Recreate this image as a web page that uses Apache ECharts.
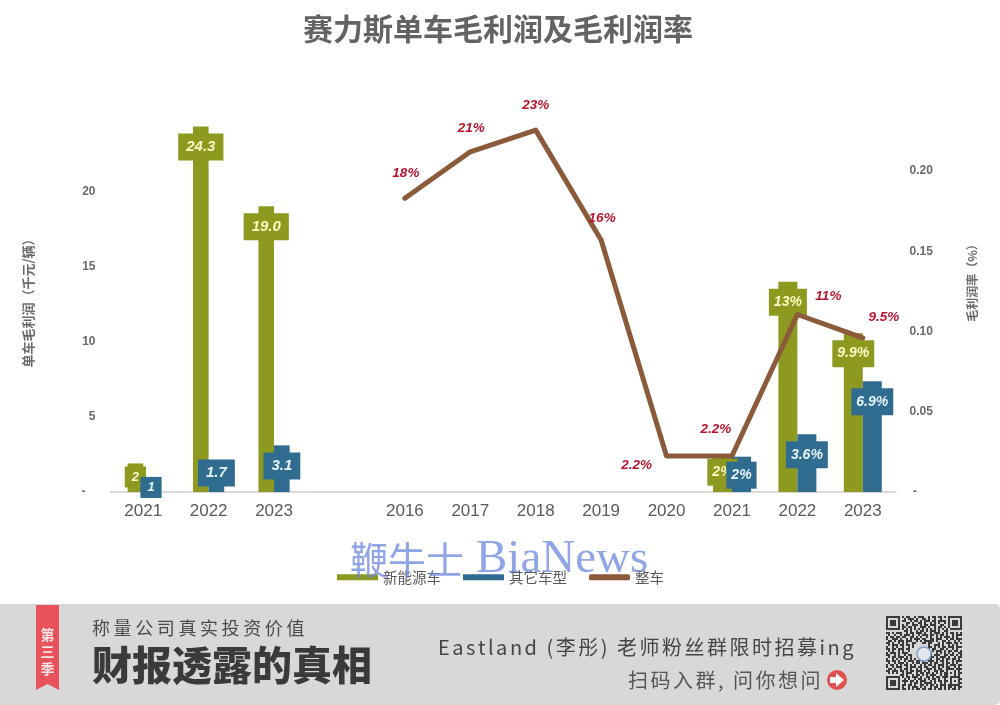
<!DOCTYPE html>
<html>
<head>
<meta charset="utf-8">
<style>html,body{margin:0;padding:0;background:#fff}#chart{width:1000px;height:705px}</style>
<script src="https://cdn.jsdelivr.net/npm/echarts@6/dist/echarts.min.js"></script>
</head>
<body>
<div id="chart"></div>
<script>
var categories = ['2021', '2022', '2023', ' ', '2016', '2017', '2018', '2019', '2020', '2021', '2022', '2023'];

// 单车毛利润（千元/辆）
var profitNev = [1.9, 24.3, 19.0, null, null, null, null, null, null, null, null, null];
var profitOther = [1.0, 1.7, 3.1, null, null, null, null, null, null, null, null, null];
var profitNevText = ['2', '24.3', '19.0'];
var profitOtherText = ['1', '1.7', '3.1'];

// 毛利润率
var rateNev = [null, null, null, null, null, null, null, null, null, 0.022, 0.131, 0.099];
var rateOther = [null, null, null, null, null, null, null, null, null, 0.022, 0.036, 0.069];
var rateTotal = [null, null, null, null, 0.183, 0.212, 0.2255, 0.157, 0.0224, 0.0224, 0.1106, 0.096];
var rateNevText = ['2%', '13%', '9.9%'];
var rateOtherText = ['2%', '3.6%', '6.9%'];
var rateTotalText = ['18%', '21%', '23%', '16%', '2.2%', '2.2%', '11%', '9.5%'];

var leftTicks = [0, 5, 10, 15, 20];
var rightTicks = [0, 0.05, 0.1, 0.15, 0.2];

var olive = '#8e9a1f';
var blue = '#2f6c8f';
var brown = '#8b5a3a';
var gray = '#6a6a6a';
var fontSans = '"Liberation Sans","Noto Sans CJK SC",sans-serif';
var fontCjk = '"Noto Sans CJK SC",sans-serif';

var qrRows = [
  '#######.#.##..#.###..#.##.##.#.#######',
  '#.....#..#.###.#..##.#..#..#...#.....#',
  '#.###.#.##..#.##.#.###.##.####.#.###.#',
  '#.###.#...##.#..##.#..#.#.#..#.#.###.#',
  '#.###.#.#.#..###.#.##.###..##..#.###.#',
  '#.....#.##.##.#..###.#..#.##.#.#.....#',
  '#######.#.#.#.#.#.#.#.#.#.#.#.#.######',
  '.........##.#..#.##.#.###.#..##.......',
  '##.#.###..#.##.###.#..#.###.#.#.##.#.#',
  '.#..#..#.###.#..#.###.##.#.##.#..#.###',
  '#.##.##.##..##.#.#..#.#..#.#.###.#.#..',
  '#..###.#..#.#.###.##..##.###..#.##.###',
  '.##.#.###.###..#.#.#####.#..##.#..#.#.',
  '##.#..#.#.#..##...##.##...#.#.###.##.#',
  '.#.###.##.##.#.......#..###.#..#.#.#..',
  '#..#.#..#..#.#.......##.#.#.##.###.###',
  '##.##.###.##.........#.##..##.#..#.#..',
  '.#.#..#.#..#.........#.#.###.#.##.##.#',
  '#.###.#.###..........##..#.#.#.#.#..##',
  '##..#.#..#.##.........#.###..##.##.#.#',
  '.#.##.###.#.#.......#.##.#.###.#..#.##',
  '#..#.#.#.##.#.#....##.#..##.#.##.##.#.',
  '##.##.#..#.###.##.#..###.#.##.#..#.###',
  '.#..#.###.#..#.##.###.#.##..#.##.#.#..',
  '#.##.#.#.##.#.#..#.#.##.#.###.#.###.##',
  '#..#.###..#.###.##.##..##.#.#.##..#.#.',
  '.##.#..#.##.#..#.#..###.#.##..####.###',
  '##.###.##.#.##.###.#.#..##.##.#...#.#.',
  '.#.#.#..#.###..#.##.##.#.#.#.##.#.#.##',
  '.......##.#..#.##.#.#.###..#.##...#.#.',
  '#######.#.##.###.#..##.#.##.###.#####.',
  '#.....#..#.#..#.##.#.#.##.#..#..#...##',
  '#.###.#.###.##.#.###..#.#.##.##.#.#.#.',
  '#.###.#..#..#.##.#.####.#..#.#..#...##',
  '#.###.#.##.##.#..##.#.##.#.###.######.',
  '#.....#.#..#.###.#.#..#.##.#.#.##.#.##',
  '#######.##.#.#.##.##.##.#.##.#.#.##.#.'
];

// 柱子上的色块标签，个别标签单独调整
function barData(values, tweaks) {
  return values.map(function (v, i) {
    if (v === null) return null;
    return { value: v, label: tweaks[i] || {} };
  });
}

function barSeries(name, values, xIdx, yIdx, width, color, textColor, texts, start, pad, fontSize, tweaks) {
  return {
    name: name,
    type: 'bar',
    xAxisIndex: xIdx,
    yAxisIndex: yIdx,
    barWidth: width,
    barGap: 0,
    itemStyle: { color: color },
    label: {
      show: true,
      position: 'insideTop',
      distance: 7,
      color: textColor,
      fontFamily: fontSans,
      fontStyle: 'italic',
      fontWeight: 'bold',
      fontSize: fontSize,
      lineHeight: 17,
      backgroundColor: color,
      padding: pad,
      formatter: function (p) { return texts[p.dataIndex - start]; }
    },
    data: barData(values, tweaks)
  };
}

// 折线标签偏移
var lineOffsets = {
  4: [1, 0], 5: [1, 1.5], 6: [0, 0.5], 7: [1, 3.5], 8: [-30, 34], 9: [-16, -1.5], 10: [31, 7.5], 11: [21, 4.5]
};

function qrCells() {
  var cells = [];
  var size = 2;
  qrRows.forEach(function (row, r) {
    row.split('').forEach(function (c, col) {
      if (c === '#') {
        cells.push({
          type: 'rect',
          z: 92,
          shape: { x: 886 + col * size, y: 616 + r * size, width: size, height: size },
          style: { fill: '#3a3a3a' }
        });
      }
    });
  });
  return cells;
}

function spaced(s, gap) {
  return s.split('').join(gap);
}

var myChart = echarts.init(document.getElementById('chart'), null, { renderer: 'canvas' });

var option = {
  backgroundColor: '#ffffff',
  animation: false,
  title: {
    text: '赛力斯单车毛利润及毛利润率',
    left: 493,
    top: 9,
    textAlign: 'center',
    textStyle: { fontFamily: fontCjk, fontSize: 30, fontWeight: 'bold', color: '#636363' }
  },
  legend: {
    left: 332,
    top: 565,
    itemWidth: 41,
    itemHeight: 6,
    itemGap: 22,
    textStyle: { fontFamily: fontCjk, fontSize: 14.5, color: '#5a5a5a' },
    data: [
      { name: '新能源车', icon: 'rect' },
      { name: '其它车型', icon: 'rect' },
      { name: '整车', icon: 'roundRect' }
    ]
  },
  grid: { left: 110.5, top: 116, width: 785, height: 376 },
  xAxis: [{
    type: 'category',
    data: categories,
    axisTick: { show: false },
    axisLine: { lineStyle: { color: '#d9d9d9', width: 2 } },
    axisLabel: { interval: 0, margin: 11, fontFamily: fontSans, fontSize: 17, color: '#5a5a5a' }
  }, {
    type: 'category',
    data: categories,
    show: false
  }],
  yAxis: [{
    type: 'value',
    min: 0,
    max: 25,
    position: 'left',
    splitLine: { show: false },
    axisLine: { show: false },
    axisTick: { show: false },
    name: '单车毛利润（千元/辆）',
    nameLocation: 'middle',
    nameGap: 76,
    nameTextStyle: { fontFamily: fontCjk, fontSize: 13, fontWeight: 'bold', color: gray, padding: [0, 0, 0, 8] },
    axisLabel: {
      customValues: leftTicks,
      margin: 15,
      fontFamily: fontSans,
      fontSize: 12,
      fontWeight: 'bold',
      color: gray,
      formatter: function (v) { return v === 0 ? '-   ' : String(v); }
    }
  }, {
    type: 'value',
    min: 0,
    max: 0.2343,
    position: 'right',
    splitLine: { show: false },
    axisLine: { show: false },
    axisTick: { show: false },
    name: '毛利润率（%）',
    nameLocation: 'middle',
    nameRotate: 90,
    nameGap: 71,
    nameTextStyle: { fontFamily: fontCjk, fontSize: 12, fontWeight: 'bold', color: gray, padding: [0, 0, 0, 48] },
    axisLabel: {
      customValues: rightTicks,
      margin: 14,
      padding: [2, 0, 0, 0],
      fontFamily: fontSans,
      fontSize: 12,
      fontWeight: 'bold',
      color: gray,
      formatter: function (v) { return v === 0 ? ' -' : v.toFixed(2); }
    }
  }],
  series: [
    barSeries('新能源车', profitNev, 0, 0, 15.6, olive, '#fdf9c4', profitNevText, 0, [5, 8], 15, {
      0: { fontSize: 13, lineHeight: 15, padding: [3, 7], distance: 3 }
    }),
    barSeries('其它车型', profitOther, 0, 0, 15.6, blue, '#e6f3fb', profitOtherText, 0, [5, 8], 15, {
      0: { fontSize: 13, lineHeight: 15, padding: [3, 7], distance: 0 },
      1: { offset: [0, -14] }
    }),
    barSeries('新能源车', rateNev, 1, 1, 19, olive, '#fdf9c4', rateNevText, 9, [5, 5], 14, {
      9: { offset: [0, -5] }
    }),
    barSeries('其它车型', rateOther, 1, 1, 19, blue, '#e6f3fb', rateOtherText, 9, [5, 5], 14, {
      9: { offset: [0, -2] }
    }),
    {
      name: '整车',
      type: 'line',
      xAxisIndex: 1,
      yAxisIndex: 1,
      symbol: 'circle',
      symbolSize: 1,
      z: 5,
      lineStyle: { color: brown, width: 5, cap: 'round', join: 'round' },
      itemStyle: { color: brown },
      label: {
        show: true,
        position: 'top',
        distance: 18,
        color: '#b8142e',
        fontFamily: fontSans,
        fontStyle: 'italic',
        fontWeight: 'bold',
        fontSize: 13.5,
        formatter: function (p) { return rateTotalText[p.dataIndex - 4]; }
      },
      data: rateTotal.map(function (v, i) {
        if (v === null) return null;
        return { value: v, label: { offset: lineOffsets[i] } };
      })
    }
  ],
  graphic: [
    { type: 'text', z: 100, left: 350, top: 541, style: { text: '鞭牛士', font: '38px "Noto Sans CJK SC"', fill: 'rgba(105,135,220,0.75)' } },
    { type: 'text', z: 100, left: 476, top: 536, style: { text: 'BiaNews', font: '47px "Liberation Serif"', fill: 'rgba(105,135,220,0.75)' } },
    { type: 'rect', z: 90, shape: { x: 0, y: 604, width: 1000, height: 101, r: [0, 5, 5, 0] }, style: { fill: '#d8d8d8' } },
    { type: 'polygon', z: 91, shape: { points: [[36, 605], [59, 605], [59, 690], [47.5, 684], [36, 690]] }, style: { fill: '#e8535b' } },
    { type: 'text', z: 92, left: 40.5, top: 626, style: { text: '第\n三\n季', font: 'bold 14px "Noto Sans CJK SC"', lineHeight: 17, fill: '#fbe3e3' } },
    { type: 'text', z: 92, left: 92, top: 619, style: { text: spaced('称量公司真实投资价值', '\u2009'), font: '18px "Noto Sans CJK SC"', fill: '#4a4a4a' } },
    { type: 'text', z: 92, left: 92, top: 645, style: { text: '财报透露的真相', font: '900 40px "Noto Sans CJK SC"', fill: '#3a3a3a' } },
    { type: 'text', z: 92, left: 438, top: 637, style: { text: spaced('Eastland (李彤) 老师粉丝群限时招募ing', '\u200a\u200a'), font: '20px "Noto Sans CJK SC"', fill: '#454545' } },
    { type: 'text', z: 92, left: 628, top: 670, style: { text: spaced('扫码入群, 问你想问', '\u200a\u200a'), font: '20px "Noto Sans CJK SC"', fill: '#555555' } },
    { type: 'circle', z: 92, shape: { cx: 837, cy: 680, r: 10 }, style: { fill: '#e0504f' } },
    { type: 'polygon', z: 93, shape: { points: [[830, 677], [836, 677], [836, 673], [844, 680], [836, 687], [836, 683], [830, 683]] }, style: { fill: '#ffffff' } },
    { type: 'group', children: qrCells() },
    { type: 'circle', z: 94, shape: { cx: 924, cy: 654, r: 7 }, style: { fill: '#e4e8ee', stroke: '#7f9fc4', lineWidth: 1.5 } }
  ]
};

myChart.setOption(option);
</script>
</body>
</html>
